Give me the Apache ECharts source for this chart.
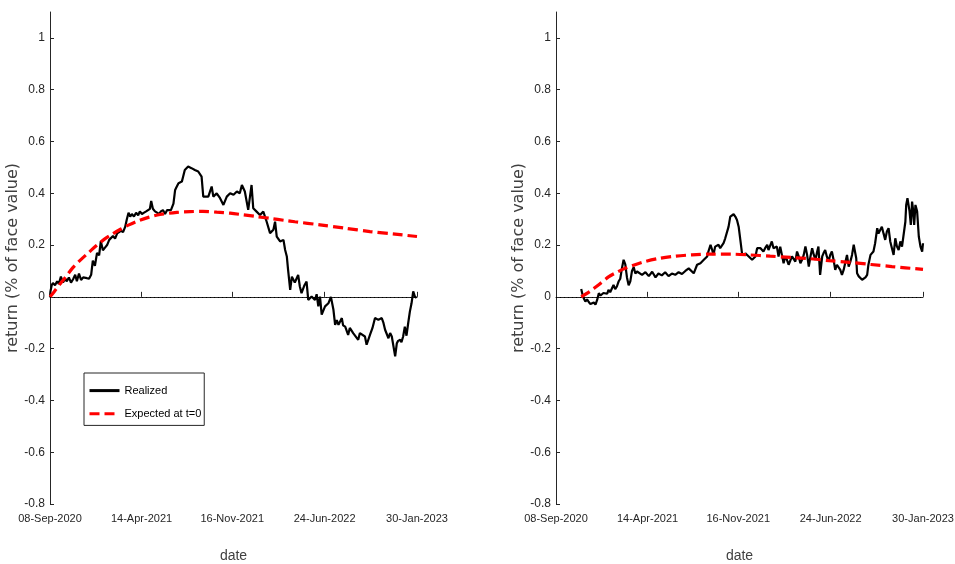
<!DOCTYPE html>
<html>
<head>
<meta charset="utf-8">
<script src="https://cdn.jsdelivr.net/npm/echarts@6/dist/echarts.min.js"></script>
<style>
html,body{margin:0;padding:0;background:#fff;}
#chart{width:955px;height:564px;}
</style>
</head>
<body>
<div id="chart"></div>
<script>
// ---------- data (x = days since 08-Sep-2020, y = return in % of face value) ----------
const X_LABELS = ['08-Sep-2020', '14-Apr-2021', '16-Nov-2021', '24-Jun-2022', '30-Jan-2023'];
const Y_TICKS = [-0.8, -0.6, -0.4, -0.2, 0, 0.2, 0.4, 0.6, 0.8, 1];
const SERIES_NAMES = ['Realized', 'Expected at t=0'];

const leftRealized = [
  [0,0.0],[1,0.02],[4,0.045],[7,0.053],[12,0.045],[17,0.06],[21,0.05],[26,0.078],[31,0.055],[36,0.07],
  [40,0.06],[45,0.075],[50,0.055],[55,0.068],[60,0.085],[64,0.06],[69,0.09],[74,0.065],[79,0.075],[83,0.07],
  [88,0.072],[93,0.07],[98,0.085],[102,0.14],[107,0.12],[112,0.17],[117,0.16],[121,0.215],[126,0.18],[131,0.19],
  [136,0.2],[141,0.22],[145,0.215],[150,0.235],[155,0.225],[160,0.245],[164,0.24],[169,0.255],[174,0.25],[179,0.27],
  [183,0.3],[187,0.325],[191,0.31],[195,0.32],[200,0.31],[205,0.325],[210,0.315],[214,0.33],[219,0.32],[224,0.325],
  [229,0.33],[233,0.335],[238,0.34],[241,0.37],[245,0.34],[250,0.33],[255,0.325],[260,0.32],[264,0.33],[269,0.335],
  [274,0.32],[279,0.335],[283,0.34],[288,0.335],[294,0.36],[298,0.413],[302,0.426],[306,0.439],[310,0.432],[314,0.445],
  [317,0.464],[321,0.49],[329,0.503],[337,0.497],[345,0.49],[353,0.484],[361,0.464],[365,0.387],[369,0.394],[377,0.387],
  [385,0.426],[389,0.387],[397,0.4],[405,0.381],[413,0.355],[421,0.387],[429,0.4],[437,0.394],[445,0.407],[452,0.4],
  [457,0.432],[464,0.407],[472,0.336],[480,0.432],[484,0.342],[492,0.329],[500,0.316],[508,0.329],[516,0.29],[524,0.246],
  [532,0.259],[536,0.29],[540,0.233],[548,0.214],[556,0.22],[560,0.181],[564,0.156],[567,0.104],[572,0.027],[576,0.078],
  [583,0.055],[587,0.07],[591,0.085],[595,0.04],[599,0.014],[606,0.045],[611,0.059],[615,-0.012],[623,0.001],[631,-0.012],
  [635,0.01],[639,-0.037],[643,0.001],[647,-0.069],[655,-0.037],[663,-0.025],[669,0.0],[675,-0.05],[679,-0.108],[683,-0.09],
  [687,-0.108],[695,-0.082],[698,-0.11],[703,-0.115],[710,-0.147],[714,-0.12],[718,-0.115],[722,-0.14],[726,-0.134],[734,-0.166],
  [738,-0.14],[742,-0.134],[750,-0.153],[754,-0.185],[762,-0.147],[768,-0.12],[774,-0.082],[782,-0.089],[790,-0.082],[794,-0.1],
  [798,-0.127],[806,-0.16],[810,-0.14],[814,-0.153],[822,-0.23],[826,-0.179],[829,-0.17],[834,-0.166],[837,-0.175],[841,-0.153],
  [845,-0.115],[849,-0.15],[853,-0.102],[857,-0.057],[861,-0.025],[865,0.021],[869,0.001],[873,-0.004]
];

const leftExpected = [
  [0,0],[10,0.02],[24,0.05],[38,0.078],[54,0.112],[71,0.14],[90,0.168],[110,0.197],[129,0.222],[149,0.243],
  [169,0.262],[188,0.278],[212,0.295],[236,0.308],[262,0.318],[302,0.326],[333,0.329],[364,0.33],[397,0.327],[429,0.323],
  [460,0.317],[492,0.31],[524,0.303],[560,0.295],[583,0.29],[643,0.278],[703,0.265],[762,0.252],[822,0.242],[874,0.233]
];

const rightRealized = [
  [60,0.03],[63,0.01],[66,-0.005],[70,-0.018],[74,-0.01],[78,-0.02],[82,-0.028],[86,-0.031],[90,-0.022],[94,-0.03],
  [98,-0.012],[102,0.014],[106,0.005],[110,0.0],[113,0.015],[117,0.021],[122,0.012],[125,0.027],[129,0.018],[133,0.025],
  [137,0.046],[141,0.03],[145,0.04],[149,0.059],[153,0.07],[157,0.11],[161,0.143],[165,0.125],[169,0.075],[173,0.045],
  [177,0.06],[181,0.1],[185,0.115],[189,0.09],[193,0.098],[197,0.104],[205,0.085],[213,0.095],[221,0.08],[229,0.097],
  [237,0.075],[244,0.09],[252,0.083],[260,0.095],[268,0.08],[276,0.09],[284,0.085],[292,0.095],[300,0.088],[308,0.1],
  [316,0.11],[320,0.104],[328,0.091],[336,0.124],[344,0.13],[352,0.143],[360,0.156],[363,0.175],[368,0.201],[372,0.181],
  [375,0.162],[379,0.194],[383,0.188],[387,0.201],[391,0.188],[395,0.194],[399,0.207],[403,0.226],[407,0.22],[411,0.271],
  [415,0.31],[419,0.303],[423,0.319],[427,0.31],[431,0.297],[435,0.271],[439,0.22],[443,0.168],[447,0.16],[451,0.168],
  [455,0.175],[459,0.156],[463,0.16],[467,0.143],[471,0.139],[475,0.156],[479,0.188],[483,0.194],[487,0.188],[491,0.181],
  [494,0.175],[498,0.188],[503,0.201],[506,0.181],[510,0.188],[514,0.214],[518,0.188],[522,0.181],[526,0.194],[530,0.156],
  [534,0.194],[538,0.162],[542,0.13],[546,0.156],[550,0.143],[554,0.124],[558,0.117],[562,0.156],[566,0.149],[570,0.136],
  [574,0.175],[578,0.156],[582,0.13],[586,0.143],[590,0.162],[594,0.195],[598,0.162],[602,0.117],[606,0.156],[610,0.188],
  [614,0.162],[618,0.143],[622,0.175],[625,0.194],[629,0.085],[634,0.156],[637,0.168],[641,0.181],[645,0.156],[649,0.136],
  [653,0.162],[657,0.175],[661,0.143],[665,0.104],[669,0.124],[673,0.13],[677,0.104],[681,0.085],[685,0.104],[689,0.11],
  [693,0.162],[697,0.117],[701,0.136],[705,0.162],[709,0.201],[711,0.204],[715,0.149],[717,0.091],[721,0.079],[725,0.072],
  [729,0.066],[733,0.07],[737,0.075],[741,0.085],[744,0.124],[749,0.162],[753,0.156],[756,0.175],[760,0.207],[765,0.265],
  [768,0.245],[772,0.239],[776,0.271],[780,0.245],[784,0.22],[788,0.252],[792,0.265],[796,0.214],[800,0.188],[804,0.162],
  [808,0.226],[812,0.194],[816,0.181],[820,0.214],[824,0.194],[828,0.188],[832,0.29],[834,0.355],[837,0.381],[840,0.387],
  [842,0.33],[845,0.278],[848,0.368],[850,0.342],[853,0.278],[856,0.355],[860,0.33],[864,0.233],[868,0.194],[872,0.175],
  [874,0.207]
];

const rightExpected = [
  [60,0.0],[80,0.02],[101,0.046],[125,0.077],[145,0.095],[165,0.11],[205,0.133],[244,0.148],[284,0.157],[324,0.162],
  [370,0.165],[415,0.165],[460,0.162],[510,0.157],[560,0.152],[600,0.148],[650,0.14],[700,0.133],[750,0.125],[800,0.117],
  [874,0.106]
];

// ---------- helpers ----------
const MONTHS = {Jan:0,Feb:1,Mar:2,Apr:3,May:4,Jun:5,Jul:6,Aug:7,Sep:8,Oct:9,Nov:10,Dec:11};
function labelToMs(s) {
  const p = s.split('-');
  return Date.UTC(+p[2], MONTHS[p[1]], +p[0]);
}
const T0 = labelToMs(X_LABELS[0]);
const X_TICK_DAYS = X_LABELS.map(l => Math.round((labelToMs(l) - T0) / 864e5));
const X_MAX = X_TICK_DAYS[X_TICK_DAYS.length - 1];

const FONT = '"Liberation Sans",Arial,sans-serif';
const AXIS_COLOR = '#262626';

const grids = [
  {left: 50, top: 12, width: 367, height: 492, containLabel: false, outerBoundsMode: 'none'},
  {left: 556, top: 12, width: 367, height: 492, containLabel: false, outerBoundsMode: 'none'}
];

function xAxisFor(i) {
  return {
    gridIndex: i, type: 'value', min: 0, max: X_MAX, interval: X_MAX / 4,
    name: 'date', nameLocation: 'middle', nameGap: 45,
    nameTextStyle: {fontFamily: FONT, fontSize: 14, color: '#404040'},
    axisLine: {show: true, lineStyle: {color: AXIS_COLOR, width: 1}},
    axisTick: {show: true, inside: true, length: 5, customValues: X_TICK_DAYS, lineStyle: {color: AXIS_COLOR}},
    axisLabel: {
      show: true, margin: 9, customValues: X_TICK_DAYS, hideOverlap: false,
      fontFamily: FONT, fontSize: 11, color: AXIS_COLOR,
      formatter: v => { const k = X_TICK_DAYS.indexOf(Math.round(v)); return k >= 0 ? X_LABELS[k] : ''; }
    },
    splitLine: {show: false}
  };
}
function yAxisFor(i) {
  return {
    gridIndex: i, type: 'value', min: -0.8, max: 1.1, interval: 0.2,
    name: 'return (% of face value)', nameLocation: 'middle', nameGap: 20,
    nameTextStyle: {fontFamily: '"DejaVu Sans",sans-serif', fontSize: 16, color: '#404040'},
    axisLine: {show: true, lineStyle: {color: AXIS_COLOR, width: 1}},
    axisTick: {show: true, inside: true, length: 4, customValues: Y_TICKS, lineStyle: {color: AXIS_COLOR}},
    axisLabel: {
      show: true, margin: 5, customValues: Y_TICKS,
      fontFamily: FONT, fontSize: 12, color: AXIS_COLOR,
      formatter: v => (Math.abs(v - 1.1) < 1e-6 ? '' : String(Math.round(v * 10) / 10))
    },
    splitLine: {show: false}
  };
}

function realizedSeries(i, data) {
  return {
    name: SERIES_NAMES[0], type: 'line', xAxisIndex: i, yAxisIndex: i,
    data: data, symbol: 'none', showSymbol: false,
    lineStyle: {color: '#000', width: 2.2}, itemStyle: {color: '#000'},
    markLine: {
      silent: true, symbol: ['none', 'none'], label: {show: false},
      lineStyle: {color: '#000', width: 1, type: [1, 3]},
      emphasis: {disabled: true},
      data: [{yAxis: 0}]
    },
    z: 2
  };
}
function expectedSeries(i, data) {
  return {
    name: SERIES_NAMES[1], type: 'line', xAxisIndex: i, yAxisIndex: i,
    data: data, symbol: 'none', showSymbol: false, smooth: 0.3,
    lineStyle: {color: '#ff0000', width: 3.2, type: [10, 5]}, itemStyle: {color: '#ff0000'},
    z: 3
  };
}

const chart = echarts.init(document.getElementById('chart'), null, {renderer: 'canvas'});
chart.setOption({
  animation: false,
  backgroundColor: '#fff',
  grid: grids,
  xAxis: [xAxisFor(0), xAxisFor(1)],
  yAxis: [yAxisFor(0), yAxisFor(1)],
  legend: {
    show: true, orient: 'vertical', left: 84, top: 373,
    data: SERIES_NAMES, icon: 'inherit',
    backgroundColor: '#fff', borderColor: AXIS_COLOR, borderWidth: 1, borderRadius: 0,
    padding: [12, 3, 6, 4], itemWidth: 30, itemHeight: 14, itemGap: 12,
    itemStyle: {opacity: 0},
    lineStyle: {width: 3},
    textStyle: {fontFamily: FONT, fontSize: 11, color: '#000'},
    selectedMode: false
  },
  series: [
    realizedSeries(0, leftRealized), expectedSeries(0, leftExpected),
    realizedSeries(1, rightRealized), expectedSeries(1, rightExpected)
  ]
});
</script>
</body>
</html>
